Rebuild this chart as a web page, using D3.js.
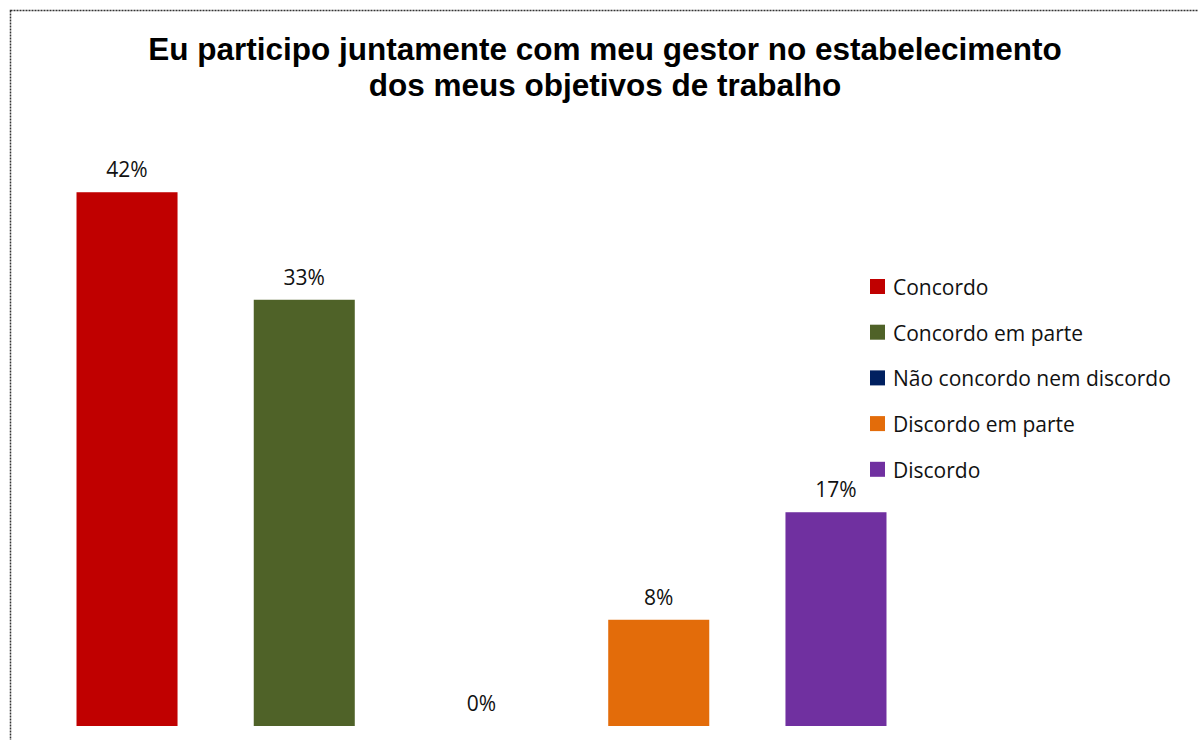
<!DOCTYPE html>
<html>
<head>
<meta charset="utf-8">
<script src="https://cdn.jsdelivr.net/npm/d3@7"></script>
<style>
  body { margin: 0; background: #fff; }
  svg { display: block; }
</style>
</head>
<body>
<div id="chart"></div>
<script>
// chart data
var categories = ["Concordo", "Concordo em parte", "Não concordo nem discordo", "Discordo em parte", "Discordo"];
var values = [41.7, 33.3, 0, 8.3, 16.7];
var valueLabels = ["42%", "33%", "0%", "8%", "17%"];
var colors = ["#c00000", "#4f6228", "#002060", "#e36c0a", "#7030a0"];
var titleLines = ["Eu participo juntamente com meu gestor no estabelecimento", "dos meus objetivos de trabalho"];

var W = 1198, H = 740;
var svg = d3.select("#chart").append("svg")
    .attr("width", W)
    .attr("height", H);

// outer frame
svg.append("rect")
    .attr("x", 10.5).attr("y", 10.5)
    .attr("width", W + 20).attr("height", H + 20)
    .attr("fill", "none")
    .attr("stroke", "#333")
    .attr("stroke-width", 1.5)
    .attr("stroke-dasharray", "2,1");

// title
svg.append("g").selectAll("text")
    .data(titleLines)
    .enter()
    .append("text")
    .attr("x", 605)
    .attr("y", function (d, i) { return 60 + i * 36; })
    .attr("text-anchor", "middle")
    .style("font-family", "'Liberation Sans', Arial, sans-serif")
    .style("font-weight", "bold")
    .style("font-size", "31.5px")
    .style("fill", "#000")
    .text(function (d) { return d; });

var x = d3.scaleBand()
    .domain(categories)
    .range([38.4, 924.6])
    .paddingInner(0.43)
    .paddingOuter(0.215);

var y = d3.scaleLinear()
    .domain([0, 50])
    .range([726, 86]);

svg.append("g").selectAll("rect")
    .data(categories)
    .enter()
    .append("rect")
    .attr("x", function (d) { return x(d); })
    .attr("y", function (d, i) { return y(values[i]); })
    .attr("width", x.bandwidth())
    .attr("height", function (d, i) { return y(0) - y(values[i]); })
    .attr("fill", function (d, i) { return colors[i]; });

svg.append("g").selectAll("text")
    .data(categories)
    .enter()
    .append("text")
    .attr("x", function (d) { return x(d) + x.bandwidth() / 2; })
    .attr("y", function (d, i) { return y(values[i]) - 15; })
    .attr("text-anchor", "middle")
    .style("font-family", "'Open Sans', 'Noto Sans', sans-serif")
    .style("font-size", "21px")
    .style("fill", "#111")
    .text(function (d, i) { return valueLabels[i]; });

// legend
var legend = svg.append("g").attr("transform", "translate(870,279)");
var rows = legend.selectAll("g")
    .data(categories)
    .enter()
    .append("g")
    .attr("transform", function (d, i) { return "translate(0," + (i * 45.7) + ")"; });
rows.append("rect")
    .attr("width", 15).attr("height", 15)
    .attr("fill", function (d, i) { return colors[i]; });
rows.append("text")
    .attr("x", 23)
    .attr("y", 16)
    .style("font-family", "'Open Sans', 'Noto Sans', sans-serif")
    .style("font-size", "21px")
    .style("fill", "#111")
    .text(function (d) { return d; });
</script>
</body>
</html>
